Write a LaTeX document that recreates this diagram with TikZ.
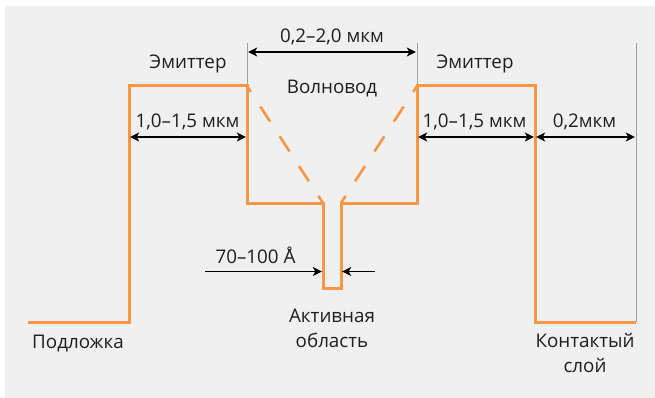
\documentclass[tikz,border=0pt]{standalone}
\usepackage{fontspec}
\setmainfont{Open Sans}
\usetikzlibrary{arrows.meta}
\definecolor{bg}{HTML}{F0F0F0}
\definecolor{org}{HTML}{F79646}
\definecolor{txt}{HTML}{1E1E1E}
\definecolor{guidegray}{HTML}{A0A0A0}
\begin{document}
\begin{tikzpicture}[x=1pt,y=-1pt,
  prof/.style={draw=org,line width=3pt,line join=miter},
  dashprof/.style={draw=org,line width=2.6pt,dash pattern=on 18pt off 17.5pt,dash phase=11pt},
  guide/.style={draw=guidegray,line width=1pt},
  tip/.tip={Stealth[length=9pt,width=9pt,inset=2.5pt]},
  dim/.style={draw=black,line width=1.2pt,tip-tip,shorten <=1.2pt,shorten >=1.2pt},
  onedim/.style={draw=black,line width=1.2pt,-tip,shorten >=1.2pt},
  lbl/.style={text=txt,font=\fontsize{18.8}{25}\selectfont,inner sep=0pt,anchor=base},
]
\useasboundingbox (0,0) rectangle (655,398);
\fill[bg] (5,6) rectangle (655,398);

% profile points
\coordinate (s0) at (28,322);
\coordinate (s1) at (129,322);
\coordinate (e1t) at (129,86);
\coordinate (e1r) at (247,86);
\coordinate (w1b) at (247,203);
\coordinate (a1t) at (323,203);
\coordinate (a1b) at (323,288);
\coordinate (a2b) at (341,288);
\coordinate (a2t) at (341,203);
\coordinate (w2b) at (417,203);
\coordinate (e2l) at (417,86);
\coordinate (e2r) at (535,86);
\coordinate (c1) at (535,322);
\coordinate (c2) at (636,322);
\coordinate (g1) at (247,43);
\coordinate (g2) at (417,43);
\coordinate (g3) at (636,43);

% guide lines
\draw[guide] (g1) -- (e1r);
\draw[guide] (g2) -- (e2l);
\draw[guide] (g3) -- (c2);

% profile
\draw[prof] (s0) -- (s1) -- (e1t) -- (e1r) -- (w1b) -- (a1t) -- (a1b) -- (a2b) -- (a2t) -- (w2b) -- (e2l) -- (e2r) -- (c1) -- (c2);
\draw[dashprof] (e1r) -- (a1t);
\draw[dashprof] (e2l) -- (a2t);

% dimension points
\coordinate (t1) at (247,52);
\coordinate (t2) at (417,52);
\coordinate (m1) at (129,137);
\coordinate (m2) at (247,137);
\coordinate (m3) at (417,137);
\coordinate (m4) at (535,137);
\coordinate (m5) at (636,137);
\coordinate (q1) at (205,271.5);
\coordinate (q2) at (323,271.5);
\coordinate (q3) at (341,271.5);
\coordinate (q4) at (375,271.5);

\draw[dim] (t1) -- (t2);
\draw[dim] (m1) -- (m2);
\draw[dim] (m3) -- (m4);
\draw[dim] (m4) -- (m5);
\draw[onedim] (q1) -- (q2);
\draw[onedim] (q4) -- (q3);

% labels
\node[lbl] (lw) at (332,43) {0,2–2,0 мкм};
\node[lbl] (le1) at (188,69) {Эмиттер};
\node[lbl] (le2) at (475,69) {Эмиттер};
\node[lbl] (lv) at (332,94) {Волновод};
\node[lbl] (ld1) at (187.5,128) {1,0–1,5 мкм};
\node[lbl] (ld2) at (474.5,128) {1,0–1,5 мкм};
\node[lbl] (ld3) at (584.5,128) {0,2мкм};
\node[lbl] (la) at (255.5,263) {70–100 Å};
\node[lbl] (lp) at (78,348) {Подложка};
\node[lbl,align=center] (lact) at (332,347) {Активная\\область};
\node[lbl,align=center] (lk) at (585,372.5) {Контактый\\слой};
\end{tikzpicture}
\end{document}
